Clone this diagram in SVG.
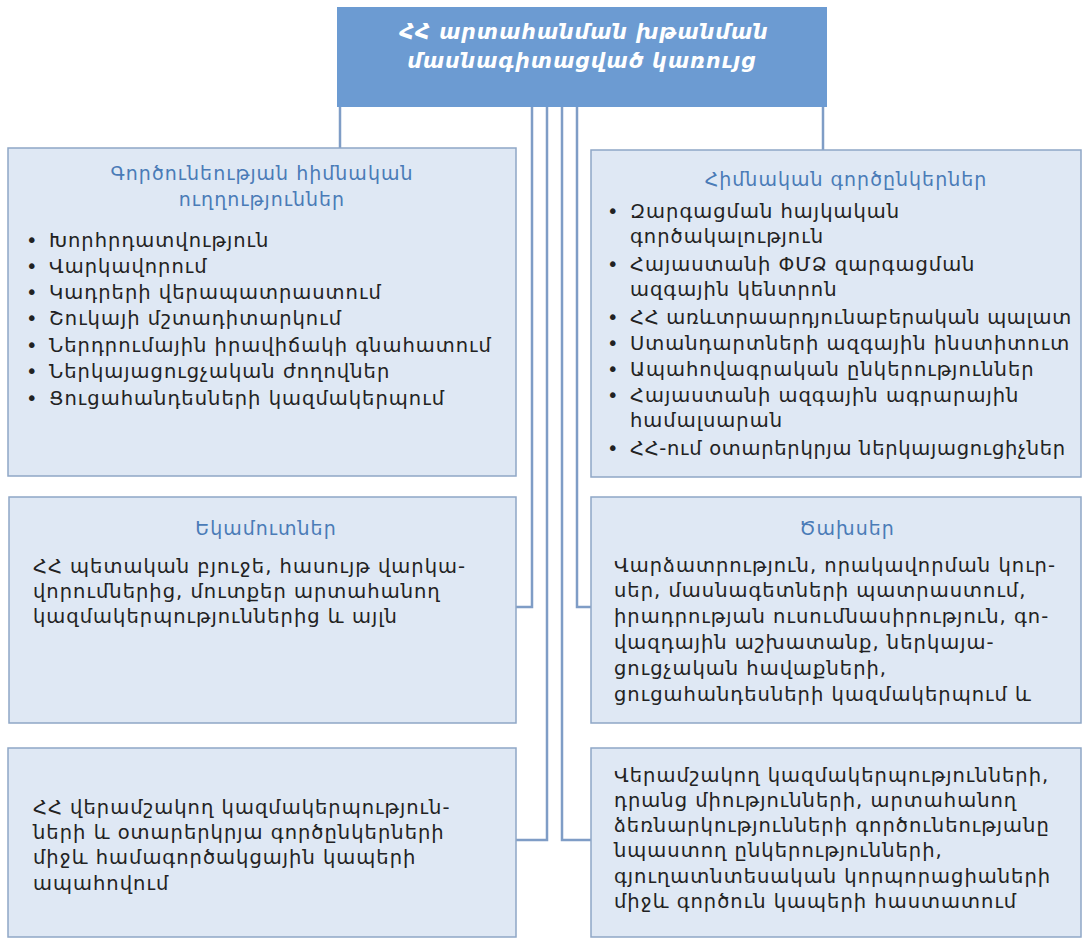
<svg xmlns="http://www.w3.org/2000/svg" width="1086" height="941" viewBox="0 0 1086 941">
<style>
.bg{fill:#ffffff}
.box{fill:#dfe8f4;stroke:#8fa7c6;stroke-width:1.5}
.top{fill:#6c9bd2;stroke:none}
.conn{fill:none;stroke:#7f9dc6;stroke-width:2.5}
text{font-family:"DejaVu Sans","Noto Sans",sans-serif}
.title{fill:#ffffff;font-size:20.5px;font-style:italic;font-weight:bold;letter-spacing:0.9px}
.hdr{fill:#4a7bb7;font-size:19px;letter-spacing:1px;text-anchor:middle}
.body{fill:#222222;font-size:19.5px;letter-spacing:1px}
.tight{letter-spacing:0.7px}
</style>
<rect class="bg" x="0" y="0" width="1086" height="941"/>
<g id="connectors">
<path class="conn" d="M340,107 V148"/>
<path class="conn" d="M823,107 V150"/>
<path class="conn" d="M532,107 V607 H516"/>
<path class="conn" d="M577,107 V607 H591"/>
<path class="conn" d="M547,107 V840 H516"/>
<path class="conn" d="M562,107 V840 H591"/>
</g>
<g id="n-top">
<rect class="top" x="337" y="7" width="490" height="100"/>
<text class="title" x="584" y="39" text-anchor="middle">ՀՀ արտահանման խթանման</text>
<text class="title" x="582" y="68" text-anchor="middle">մասնագիտացված կառույց</text>
</g>
<g id="n-directions">
<rect class="box" x="8" y="148" width="508" height="328"/>
<text class="hdr" x="262" y="180">Գործունեության հիմնական</text>
<text class="hdr" x="262" y="206">ուղղություններ</text>
<text class="body"><tspan x="26" y="247">•</tspan><tspan x="49" y="247">Խորհրդատվություն</tspan><tspan x="26" y="273">•</tspan><tspan x="49" y="273">Վարկավորում</tspan><tspan x="26" y="299">•</tspan><tspan x="49" y="299">Կադրերի վերապատրաստում</tspan><tspan x="26" y="325">•</tspan><tspan x="49" y="325">Շուկայի մշտադիտարկում</tspan><tspan x="26" y="352">•</tspan><tspan x="49" y="352">Ներդրումային իրավիճակի գնահատում</tspan><tspan x="26" y="378">•</tspan><tspan x="49" y="378">Ներկայացուցչական ժողովներ</tspan><tspan x="26" y="405">•</tspan><tspan x="49" y="405">Ցուցահանդեսների կազմակերպում</tspan></text>
</g>
<g id="n-partners">
<rect class="box" x="591" y="150" width="490" height="327"/>
<text class="hdr" x="846" y="186">Հիմնական գործընկերներ</text>
<text class="body"><tspan x="607" y="218">•</tspan><tspan x="630" y="218">Զարգացման հայկական</tspan><tspan x="630" y="243">գործակալություն</tspan><tspan x="607" y="271">•</tspan><tspan x="630" y="271">Հայաստանի ՓՄՁ զարգացման</tspan><tspan x="630" y="296">ազգային կենտրոն</tspan><tspan x="607" y="324">•</tspan><tspan class="tight" x="630" y="324">ՀՀ առևտրաարդյունաբերական պալատ</tspan><tspan x="607" y="350">•</tspan><tspan x="630" y="350">Ստանդարտների ազգային ինստիտուտ</tspan><tspan x="607" y="376">•</tspan><tspan x="630" y="376">Ապահովագրական ընկերություններ</tspan><tspan x="607" y="402">•</tspan><tspan x="630" y="402">Հայաստանի ազգային ագրարային</tspan><tspan x="630" y="427">համալսարան</tspan><tspan x="607" y="455">•</tspan><tspan class="tight" x="630" y="455">ՀՀ-ում օտարերկրյա ներկայացուցիչներ</tspan></text>
</g>
<g id="n-income">
<rect class="box" x="9" y="497" width="507" height="226"/>
<text class="hdr" x="266" y="535">Եկամուտներ</text>
<text class="body"><tspan x="33" y="573">ՀՀ պետական բյուջե, հասույթ վարկա-</tspan><tspan x="33" y="598">վորումներից, մուտքեր արտահանող</tspan><tspan x="33" y="623">կազմակերպություններից և այլն</tspan></text>
</g>
<g id="n-expenses">
<rect class="box" x="591" y="497" width="490" height="226"/>
<text class="hdr" x="847" y="535">Ծախսեր</text>
<text class="body"><tspan x="614" y="572">Վարձատրություն, որակավորման կուր-</tspan><tspan x="614" y="597">սեր, մասնագետների պատրաստում,</tspan><tspan x="614" y="623">իրադրության ուսումնասիրություն, գո-</tspan><tspan x="614" y="649">վազդային աշխատանք, ներկայա-</tspan><tspan x="614" y="675">ցուցչական հավաքների,</tspan><tspan x="614" y="701">ցուցահանդեսների կազմակերպում և</tspan></text>
</g>
<g id="n-cooperation">
<rect class="box" x="8" y="748" width="508" height="189"/>
<text class="body"><tspan x="33" y="814">ՀՀ վերամշակող կազմակերպություն-</tspan><tspan x="33" y="839">ների և օտարերկրյա գործընկերների</tspan><tspan x="33" y="864">միջև համագործակցային կապերի</tspan><tspan x="33" y="890">ապահովում</tspan></text>
</g>
<g id="n-links">
<rect class="box" x="591" y="748" width="490" height="189"/>
<text class="body"><tspan x="614" y="782">Վերամշակող կազմակերպությունների,</tspan><tspan x="614" y="807">դրանց միությունների, արտահանող</tspan><tspan x="614" y="832">ձեռնարկությունների գործունեությանը</tspan><tspan x="614" y="857">նպաստող ընկերությունների,</tspan><tspan x="614" y="883">գյուղատնտեսական կորպորացիաների</tspan><tspan x="614" y="908">միջև գործուն կապերի հաստատում</tspan></text>
</g>
</svg>
